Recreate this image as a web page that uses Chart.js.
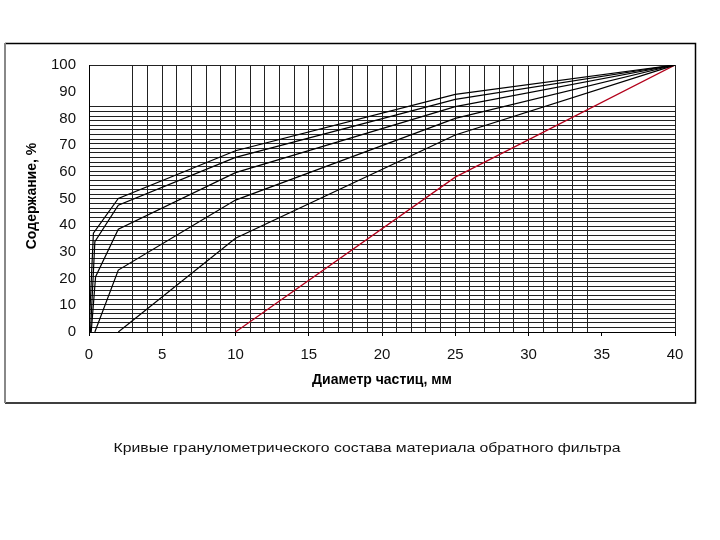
<!DOCTYPE html>
<html>
<head>
<meta charset="utf-8">
<script src="https://cdn.jsdelivr.net/npm/chart.js"></script>
<style>
html, body { margin: 0; padding: 0; background: #fff; }
</style>
</head>
<body>
<canvas id="granChart" width="720" height="540"></canvas>
<script>
// particle diameter (mm) and content (%) for each curve
var d1 = [0, 0.3, 2, 10, 25, 40],   p1 = [0, 37, 50, 67.9, 89, 100];
var d2 = [0.1, 0.4, 2, 10, 25, 40], p2 = [0, 33.8, 47.5, 65.4, 87.1, 100];
var d3 = [0.15, 0.45, 2, 10, 25, 40], p3 = [0, 20.7, 38.5, 59.7, 84.4, 100];
var d4 = [0.4, 2, 10, 25, 40],      p4 = [0, 23.2, 49.4, 80, 100];
var d5 = [2, 10, 25, 40],           p5 = [0, 35.1, 73.8, 100];
var d6 = [10, 25, 40],              p6 = [0, 58, 100];

var xTicks = [0, 5, 10, 15, 20, 25, 30, 35, 40];
var yTicks = [0, 10, 20, 30, 40, 50, 60, 70, 80, 90, 100];

var xTitle = 'Диаметр частиц, мм';
var yTitle = 'Содержание, %';
var caption = 'Кривые гранулометрического состава материала обратного фильтра';

var fontFam = '"Liberation Sans", Arial, sans-serif';

function pts(xs, ys) {
    var out = [];
    for (var i = 0; i < xs.length; i++) out.push({x: xs[i], y: ys[i]});
    return out;
}

function curve(xs, ys, color) {
    return {
        data: pts(xs, ys),
        borderColor: color,
        borderWidth: 1.2,
        pointRadius: 0,
        tension: 0,
        fill: false
    };
}

// paper grid: vertical lines every 1 mm from 3 to 34, horizontal every 1.72 %
function xGridTicks(scale) {
    var t = [{value: 0, grid: true}];
    for (var v = 3; v <= 34; v++) t.push({value: v, grid: true});
    t.push({value: 35, grid: false});
    t.push({value: 40, grid: true});
    scale.ticks = t;
}

function yGridTicks(scale) {
    var t = [];
    for (var k = 0; k <= 49; k++) t.push({value: k * 1.72, grid: true});
    for (var i = 1; i < yTicks.length; i++) {
        t.push({value: yTicks[i], grid: yTicks[i] === 100});
    }
    t.sort(function(a, b) { return a.value - b.value; });
    scale.ticks = t;
}

var framePlugin = {
    id: 'frame',
    afterDraw: function(chart) {
        var ctx = chart.ctx;
        ctx.save();
        ctx.strokeStyle = '#000';
        ctx.lineWidth = 1.5;
        ctx.beginPath();
        ctx.moveTo(5, 43.5);
        ctx.lineTo(695.5, 43.5);
        ctx.lineTo(695.5, 403);
        ctx.lineTo(5, 403);
        ctx.stroke();
        ctx.strokeStyle = '#888';
        ctx.lineWidth = 2;
        ctx.beginPath();
        ctx.moveTo(5, 43);
        ctx.lineTo(5, 403);
        ctx.stroke();

        ctx.fillStyle = '#000';
        ctx.textAlign = 'center';
        ctx.textBaseline = 'middle';
        ctx.font = 'bold 14px ' + fontFam;
        ctx.fillText(xTitle, 382, 380);
        ctx.save();
        ctx.translate(32, 196);
        ctx.rotate(-Math.PI / 2);
        ctx.fillText(yTitle, 0, 0);
        ctx.restore();

        // caption is stretched wide in the original
        ctx.font = '12px ' + fontFam;
        ctx.fillStyle = '#111';
        var w = ctx.measureText(caption).width;
        ctx.translate(367, 449);
        ctx.scale(507 / w, 1);
        ctx.fillText(caption, 0, 0);
        ctx.restore();
    }
};

new Chart(document.getElementById('granChart'), {
    type: 'line',
    data: {
        datasets: [
            curve(d1, p1, '#000'),
            curve(d2, p2, '#000'),
            curve(d3, p3, '#000'),
            curve(d4, p4, '#000'),
            curve(d5, p5, '#000'),
            curve(d6, p6, '#b3001b')
        ]
    },
    options: {
        responsive: false,
        animation: false,
        layout: { padding: { top: 65, right: 45, left: 0, bottom: 0 } },
        plugins: {
            legend: { display: false },
            tooltip: { enabled: false }
        },
        scales: {
            x: {
                type: 'linear',
                min: 0,
                max: 40,
                afterBuildTicks: xGridTicks,
                afterFit: function(s) { s.height = 208; },
                border: { display: true, color: '#000', width: 1 },
                grid: {
                    color: function(c) { return c.tick && c.tick.grid ? '#222' : 'rgba(0,0,0,0)'; },
                    tickColor: function(c) { return c.tick && xTicks.indexOf(c.tick.value) >= 0 ? '#000' : 'rgba(0,0,0,0)'; },
                    tickLength: 4,
                    lineWidth: 1
                },
                ticks: {
                    autoSkip: false,
                    maxRotation: 0,
                    padding: 10,
                    color: '#111',
                    font: { family: fontFam, size: 15 },
                    callback: function(v) { return xTicks.indexOf(v) >= 0 ? String(v) : ''; }
                }
            },
            y: {
                type: 'linear',
                min: 0,
                max: 100,
                afterBuildTicks: yGridTicks,
                afterFit: function(s) { s.width = 89; },
                border: { display: true, color: '#000', width: 1 },
                grid: {
                    color: function(c) { return c.tick && c.tick.grid ? '#222' : 'rgba(0,0,0,0)'; },
                    drawTicks: false,
                    lineWidth: 1
                },
                ticks: {
                    autoSkip: false,
                    padding: 13,
                    color: '#111',
                    font: { family: fontFam, size: 15 },
                    callback: function(v) { return yTicks.indexOf(v) >= 0 ? String(v) : ''; }
                }
            }
        }
    },
    plugins: [framePlugin]
});
</script>
</body>
</html>
